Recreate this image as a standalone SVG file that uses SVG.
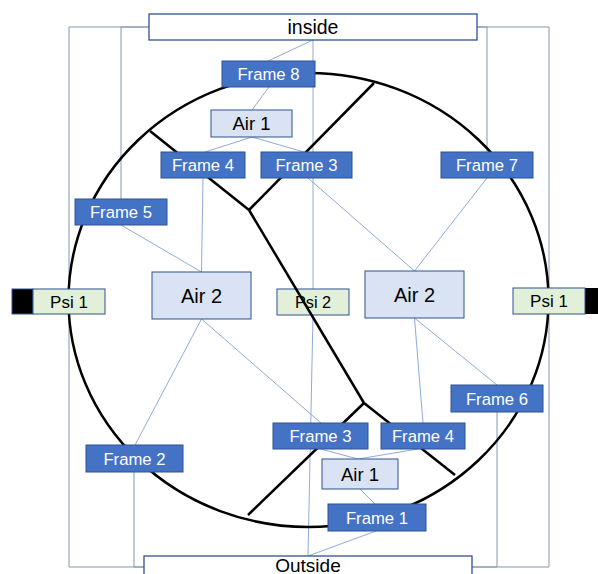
<svg xmlns="http://www.w3.org/2000/svg" width="598" height="574" viewBox="0 0 598 574">
<style>
text{font-family:"Liberation Sans",Arial,sans-serif;text-anchor:middle}
.fr{fill:#4472C4;stroke:#2F528F;stroke-width:1}
.ft{fill:#fff;font-size:16.7px}
.air{fill:#DAE3F3;stroke:#2F528F;stroke-width:1}
.psi{fill:#E2F0D9;stroke:#2F528F;stroke-width:1}
.io{fill:#fff;stroke:#2F528F;stroke-width:1.3}
.bt{fill:#000}
.c{stroke:#8FAADC;stroke-width:1;fill:none}
.e{stroke:#8497B0;stroke-width:1;fill:none}
.k{stroke:#000;stroke-width:2.5;fill:none}
</style>
<rect width="598" height="574" fill="#fff"/>
<g id="connectors">
<line class="c" x1="268" y1="61" x2="313" y2="40"/>
<line class="c" x1="313" y1="40" x2="313" y2="289"/>
<line class="c" x1="269" y1="87" x2="252" y2="110"/>
<line class="c" x1="252" y1="137" x2="205" y2="152"/>
<line class="c" x1="252" y1="137" x2="304" y2="152"/>
<line class="c" x1="203" y1="178" x2="201.5" y2="272"/>
<line class="c" x1="121" y1="225" x2="201.5" y2="272"/>
<line class="c" x1="308" y1="178" x2="414.5" y2="271"/>
<line class="c" x1="487" y1="178" x2="414.5" y2="271"/>
<line class="c" x1="201.5" y1="319" x2="135" y2="445"/>
<line class="c" x1="201.5" y1="319" x2="321" y2="423"/>
<line class="c" x1="414.5" y1="318" x2="497" y2="385"/>
<line class="c" x1="414.5" y1="318" x2="423" y2="423"/>
<line class="c" x1="320.5" y1="449" x2="358" y2="459"/>
<line class="c" x1="418" y1="449" x2="358" y2="459"/>
<line class="c" x1="360" y1="489" x2="375" y2="504"/>
<line class="c" x1="376" y1="531" x2="308" y2="556"/>
<line class="c" x1="313" y1="315" x2="308" y2="556"/>
<path class="e" d="M149,27 H69 V567 H144"/>
<path class="e" d="M121,199 V27 H149"/>
<path class="e" d="M134,472 V567 H144"/>
<path class="e" d="M477,27 H549 V567 H472"/>
<path class="e" d="M487,152 V27 H477"/>
<path class="e" d="M497,412 V567 H472"/>
</g>
<g id="psi2"><rect class="psi" x="277" y="289" width="72" height="26"/><text x="313" y="307.8" font-size="16.3">Psi 2</text></g>
<g id="wheel">
<ellipse class="k" cx="308.5" cy="300" rx="240" ry="227"/>
<line class="k" x1="150" y1="131" x2="249" y2="210"/>
<line class="k" x1="374" y1="83" x2="249" y2="210"/>
<line class="k" x1="249" y1="210" x2="364" y2="403"/>
<line class="k" x1="364" y1="403" x2="248" y2="515"/>
<line class="k" x1="364" y1="403" x2="455" y2="475"/>
</g>
<g id="inside"><rect class="io" x="149" y="14" width="328" height="26"/><text x="313" y="34" font-size="19.5">inside</text></g>
<g id="outside"><rect class="io" x="144" y="556" width="328" height="30"/><text x="308" y="571.5" font-size="19">Outside</text></g>
<g id="frame8"><rect class="fr" x="222" y="61" width="93" height="26"/><text class="ft" x="268.5" y="80">Frame 8</text></g>
<g id="air1top"><rect class="air" x="211" y="110" width="81" height="27"/><text x="251.5" y="130.3" font-size="18.5">Air 1</text></g>
<g id="frame4top"><rect class="fr" x="161" y="152" width="84" height="26"/><text class="ft" x="203" y="171">Frame 4</text></g>
<g id="frame3top"><rect class="fr" x="261" y="152" width="91" height="26"/><text class="ft" x="306.5" y="171">Frame 3</text></g>
<g id="frame7"><rect class="fr" x="441" y="152" width="92" height="26"/><text class="ft" x="487" y="171">Frame 7</text></g>
<g id="frame5"><rect class="fr" x="75" y="199" width="92" height="26"/><text class="ft" x="121" y="218">Frame 5</text></g>
<g id="air2left"><rect class="air" x="152" y="272" width="99" height="47"/><text x="201.5" y="302.7" font-size="20">Air 2</text></g>
<g id="air2right"><rect class="air" x="365" y="271" width="99" height="47"/><text x="414.5" y="301.7" font-size="20">Air 2</text></g>
<g id="psi1left"><rect class="bt" x="12" y="289" width="21" height="25" stroke="#2F528F"/><rect class="psi" x="33" y="289" width="72" height="25"/><text x="69" y="307.6" font-size="17">Psi 1</text></g>
<g id="psi1right"><rect class="bt" x="585" y="288" width="22" height="26"/><rect class="psi" x="513" y="288" width="72" height="26"/><text x="549" y="307.1" font-size="17">Psi 1</text></g>
<g id="frame6"><rect class="fr" x="451" y="385" width="92" height="27"/><text class="ft" x="497" y="404.5">Frame 6</text></g>
<g id="frame3bottom"><rect class="fr" x="273" y="423" width="95" height="26"/><text class="ft" x="320.5" y="442">Frame 3</text></g>
<g id="frame4bottom"><rect class="fr" x="381" y="423" width="84" height="26"/><text class="ft" x="423" y="442">Frame 4</text></g>
<g id="frame2"><rect class="fr" x="86" y="445" width="97" height="27"/><text class="ft" x="134.5" y="464.5">Frame 2</text></g>
<g id="air1bottom"><rect class="air" x="322" y="459" width="76" height="30"/><text x="360" y="480.6" font-size="18.5">Air 1</text></g>
<g id="frame1"><rect class="fr" x="328" y="504" width="98" height="27"/><text class="ft" x="377" y="523.5">Frame 1</text></g>
</svg>
